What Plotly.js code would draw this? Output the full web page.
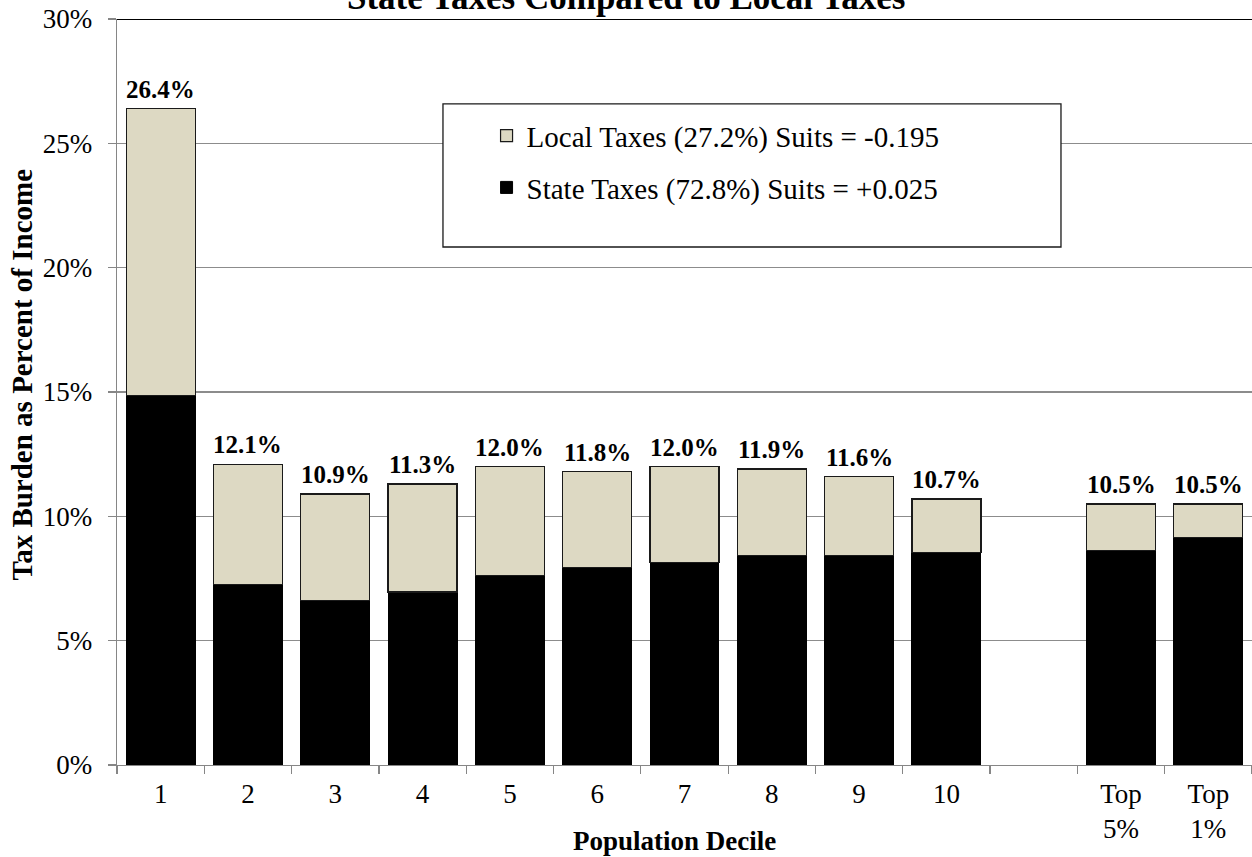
<!DOCTYPE html>
<html>
<head>
<meta charset="utf-8">
<script src="https://cdn.plot.ly/plotly-3.0.1.min.js"></script>
<style>
  html, body { margin: 0; padding: 0; background: #ffffff; overflow: hidden; }
  #chart { width: 1252px; height: 857px; }
</style>
</head>
<body>
<div id="chart"></div>
<script>
// Population groups along the x axis (one empty slot separates the deciles from the top groups)
const categories = ['1', '2', '3', '4', '5', '6', '7', '8', '9', '10', ' ', 'Top<br>5%', 'Top<br>1%'];

// Total tax burden (% of income) printed above each bar
const totalBurden = [26.4, 12.1, 10.9, 11.3, 12.0, 11.8, 12.0, 11.9, 11.6, 10.7, null, 10.5, 10.5];

// State tax share of income (% of income)
const stateTaxes = [14.87, 7.27, 6.63, 6.96, 7.63, 7.95, 8.15, 8.43, 8.43, 8.55, null, 8.63, 9.16];

// Local taxes make up the rest of each total
const localTaxes = totalBurden.map((t, i) => (t === null ? null : +(t - stateTaxes[i]).toFixed(2)));

const yTickVals = [0, 5, 10, 15, 20, 25, 30];
const yTickText = ['0%', '5%', '10%', '15%', '20%', '25%', '30%'];

const serif = 'Liberation Serif';

const traces = [
  {
    type: 'bar',
    name: 'State Taxes (72.8%) Suits = +0.025',
    x: categories,
    y: stateTaxes,
    legendgroup: 'state',
    legendrank: 2,
    marker: { color: '#000000', line: { color: '#000000', width: 1 } },
    hoverinfo: 'skip'
  },
  {
    type: 'bar',
    name: 'Local Taxes (27.2%) Suits = -0.195',
    x: categories,
    y: localTaxes,
    legendgroup: 'local',
    legendrank: 1,
    marker: { color: '#DDD9C3', line: { color: '#1a1a1a', width: 1.2 } },
    hoverinfo: 'skip'
  }
];

// Value labels above each stacked bar (x given as the category's position on the axis)
const valueLabels = [];
categories.forEach((c, i) => {
  if (totalBurden[i] === null) return;
  valueLabels.push({
    x: i, y: totalBurden[i], xref: 'x', yref: 'y',
    text: '<b>' + totalBurden[i].toFixed(1) + '%</b>',
    showarrow: false, xanchor: 'center', yanchor: 'bottom', yshift: 4,
    font: { family: serif, size: 25, color: '#000000' }
  });
});

const annotations = valueLabels.concat([
  {
    text: '<b>State Taxes Compared to Local Taxes</b>',
    xref: 'paper', yref: 'paper', x: 0.4485, y: 1, xanchor: 'center', yanchor: 'bottom', yshift: 0,
    showarrow: false, font: { family: serif, size: 35, color: '#000000' }
  },
  {
    text: '<b>Tax Burden as Percent of Income</b>',
    xref: 'paper', yref: 'paper', x: -0.0833, y: 0.524, xanchor: 'center', yanchor: 'middle',
    textangle: -90, showarrow: false, font: { family: serif, size: 29, color: '#000000' }
  },
  {
    text: '<b>Population Decile</b>',
    xref: 'paper', yref: 'paper', x: 0.4916, y: -0.102, xanchor: 'center', yanchor: 'middle',
    showarrow: false, font: { family: serif, size: 27, color: '#000000' }
  }
]);

const layout = {
  width: 1252,
  height: 857,
  margin: { l: 117, r: 0, t: 19, b: 92, pad: 0 },
  font: { family: serif, size: 27, color: '#000000' },
  paper_bgcolor: '#ffffff',
  plot_bgcolor: '#ffffff',
  barmode: 'stack',
  bargap: 0.21,
  showlegend: true,
  legend: {
    x: 0.3256, y: 0.8085, xanchor: 'left', yanchor: 'middle',
    traceorder: 'grouped', tracegroupgap: 11,
    bgcolor: 'rgba(0,0,0,0)', borderwidth: 0,
    font: { family: serif, size: 29, color: '#000000' }
  },
  xaxis: {
    type: 'category',
    categoryorder: 'array',
    categoryarray: categories,
    showgrid: false,
    showline: true, linecolor: '#868686', linewidth: 1.3,
    ticks: 'outside', tickson: 'boundaries', ticklen: 8, tickcolor: '#868686', tickwidth: 1.3,
    ticklabelstandoff: 4,
    tickfont: { family: serif, size: 27, color: '#000000' },
    fixedrange: true
  },
  yaxis: {
    range: [0, 30],
    tickvals: yTickVals,
    ticktext: yTickText,
    showgrid: true, gridcolor: '#8c8c8c', gridwidth: 1.2,
    zeroline: false,
    showline: true, linecolor: '#868686', linewidth: 1.3,
    ticks: 'outside', ticklen: 8, tickcolor: '#868686', tickwidth: 1.3,
    ticklabelstandoff: 10,
    tickfont: { family: serif, size: 27, color: '#000000' },
    fixedrange: true
  },
  shapes: [
    // top edge of the plotting area
    { type: 'line', xref: 'paper', yref: 'y', x0: 0, x1: 1, y0: 30, y1: 30,
      line: { color: '#000000', width: 2 }, layer: 'above' },
    // legend frame
    { type: 'rect', xref: 'paper', yref: 'paper', x0: 0.2872, x1: 0.8317, y0: 0.6944, y1: 0.8863,
      fillcolor: '#ffffff', line: { color: '#1a1a1a', width: 1.3 }, layer: 'above' }
  ],
  annotations: annotations
};

Plotly.newPlot('chart', traces, layout, { displayModeBar: false, staticPlot: true });
</script>
</body>
</html>
